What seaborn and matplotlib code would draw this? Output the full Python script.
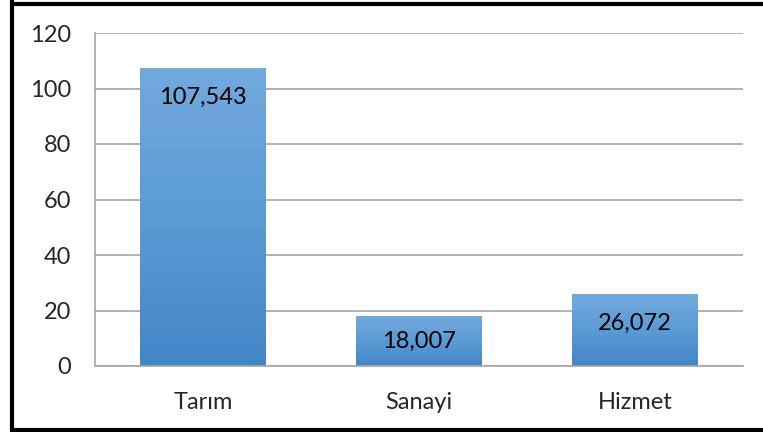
import numpy as np
import pandas as pd
import seaborn as sns
import matplotlib.pyplot as plt
from matplotlib.colors import LinearSegmentedColormap
from matplotlib.lines import Line2D

sektor = ["Tarım", "Sanayi", "Hizmet"]
deger = [107.543, 18.007, 26.072]
etiket = ["107,543", "18,007", "26,072"]
yticks = [0, 20, 40, 60, 80, 100, 120]

df = pd.DataFrame({"Sektor": sektor, "Deger": deger})

sns.set_style("white")
plt.rcParams["font.family"] = ["Lato", "DejaVu Sans"]

fig = plt.figure(figsize=(7.63, 4.32), dpi=100)
ax = fig.add_axes([95 / 763, 66 / 432, 648 / 763, 333 / 432])

sns.barplot(data=df, x="Sektor", y="Deger", color="#5B9BD5", width=0.58, ax=ax)

# Excel tarzı dikey gradyan
cmap = LinearSegmentedColormap.from_list("g", ["#4386C8", "#5B9BD5", "#73A9DD"])
grad = np.linspace(0, 1, 256).reshape(-1, 1)
for p in ax.patches:
    x0, y0 = p.get_x(), p.get_y()
    w, h = p.get_width(), p.get_height()
    im = ax.imshow(grad, cmap=cmap, aspect="auto", origin="lower",
                   extent=[x0, x0 + w, y0, y0 + h], zorder=p.get_zorder())
    im.set_clip_path(p)
    p.set_facecolor("none")
    p.set_edgecolor("none")

# etiketler: çubuğun içinde, üstten ~30 px aşağıda (kısa çubukta ortada)
for i, (v, t) in enumerate(zip(deger, etiket)):
    ax.text(i, max(v - 10.8, v / 2), t, ha="center", va="center",
            fontsize=17, color="black")

ax.set_xlim(-0.5, 2.5)
ax.set_ylim(0, 120)
ax.set_yticks(yticks)
ax.set_xlabel("")
ax.set_ylabel("")
ax.grid(axis="y", color="#A6A6A6", linewidth=1.2)
ax.set_axisbelow(True)
for s in ["top", "right"]:
    ax.spines[s].set_visible(False)
for s in ["left", "bottom"]:
    ax.spines[s].set_color("#A6A6A6")
    ax.spines[s].set_linewidth(1.2)
ax.tick_params(axis="y", length=0, pad=17, labelsize=17)
ax.tick_params(axis="x", length=0, pad=19, labelsize=17)

# çerçeve
fig.add_artist(Line2D([12 / 763, 12 / 763], [0, 1], color="black", lw=3, transform=fig.transFigure))
fig.add_artist(Line2D([12 / 763, 1], [1 - 4 / 432, 1 - 4 / 432], color="black", lw=3, transform=fig.transFigure))
fig.add_artist(Line2D([12 / 763, 1], [2 / 432, 2 / 432], color="black", lw=3, transform=fig.transFigure))

fig.savefig("out.png", dpi=100)
